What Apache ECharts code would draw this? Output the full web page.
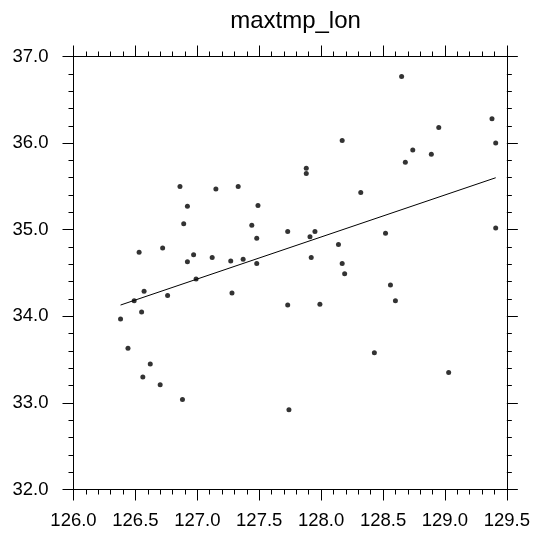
<!DOCTYPE html>
<html>
<head>
<meta charset="utf-8">
<script src="https://cdn.jsdelivr.net/npm/echarts@6/dist/echarts.min.js"></script>
<style>
	html, body { margin: 0; padding: 0; background: #fff; }
	#chart { width: 533px; height: 537px; }
</style>
</head>
<body>
<div id="chart"></div>
<script>
	// station longitude / max temperature
	const lonVals = [126.86, 127.15, 127.33, 126.92, 127.49, 126.89, 127.44, 127.73, 127.48, 126.53,
		126.72, 126.97, 126.92, 127.12, 127.27, 127.37, 127.48, 128.65, 129.38, 128.95,
		128.17, 129.41, 128.74, 128.89, 128.68, 127.88, 127.88, 128.32, 127.91, 127.95,
		128.52, 128.14, 127.92, 128.17, 126.99, 126.57, 126.49, 126.76, 127.28, 127.73,
		126.55, 126.38, 126.44, 126.62, 126.56, 126.70, 126.88, 127.74, 128.19, 127.99,
		128.56, 128.60, 128.43, 129.03, 129.41]
	const tmpVals = [35.50, 35.47, 35.50, 35.27, 35.28, 35.07, 35.05, 34.98, 34.90, 34.74,
		34.79, 34.71, 34.63, 34.68, 34.64, 34.66, 34.61, 36.77, 36.28, 36.18,
		36.03, 36.00, 35.92, 35.87, 35.78, 35.71, 35.65, 35.43, 34.92, 34.98,
		34.96, 34.83, 34.68, 34.61, 34.43, 34.29, 34.18, 34.24, 34.27, 34.13,
		34.05, 33.97, 33.63, 33.45, 33.30, 33.21, 33.04, 32.92, 34.49, 34.14,
		34.36, 34.18, 33.58, 33.35, 35.02]

	// regression line end points
	const fitLon = [126.38, 129.41]
	const fitTmp = [34.13, 35.60]

	const xTicks = [126.0, 129.5, 0.5]
	const yTicks = [32.0, 37.0, 1.0]

	const points = lonVals.map((x, i) => [x, tmpVals[i]])
	const fitLine = fitLon.map((x, i) => [x, fitTmp[i]])

	const font = 'Liberation Sans'

	function axisBase(show) {
		return {
			axisLine: { show: true, onZero: false, lineStyle: { color: '#000', width: 1 } },
			axisTick: { show: true, inside: false, length: 11, lineStyle: { color: '#000', width: 1 } },
			minorTick: { show: true, splitNumber: 5, length: 5, lineStyle: { color: '#000', width: 1 } },
			splitLine: { show: false },
			axisLabel: {
				show: show,
				color: '#000',
				fontFamily: font,
				fontSize: 18.5,
				formatter: v => v.toFixed(1)
			}
		}
	}

	const dom = echarts.init(document.getElementById('chart'), null, { renderer: 'canvas' })
	const option = {
		animation: false,
		backgroundColor: '#fff',
		title: {
			text: 'maxtmp_lon',
			left: 290.5,
			top: 4,
			textAlign: 'center',
			textStyle: { color: '#000', fontFamily: font, fontSize: 24, fontWeight: 'normal' }
		},
		grid: { left: 73.5, right: 25.5, top: 56.5, bottom: 47.5, containLabel: false },
		xAxis: [
			Object.assign(axisBase(true), { type: 'value', position: 'bottom', min: xTicks[0], max: xTicks[1], interval: xTicks[2] }),
			Object.assign(axisBase(false), { type: 'value', position: 'top', min: xTicks[0], max: xTicks[1], interval: xTicks[2] })
		],
		yAxis: [
			Object.assign(axisBase(true), { type: 'value', position: 'left', min: yTicks[0], max: yTicks[1], interval: yTicks[2] }),
			Object.assign(axisBase(false), { type: 'value', position: 'right', min: yTicks[0], max: yTicks[1], interval: yTicks[2] })
		],
		series: [{
			type: 'scatter',
			data: points,
			symbol: 'circle',
			symbolSize: 5,
			itemStyle: { color: '#000' }
		}, {
			type: 'line',
			data: fitLine,
			showSymbol: false,
			symbol: 'none',
			lineStyle: { color: '#000', width: 1 }
		}]
	}
	option.xAxis[0].axisLabel.margin = 22
	option.yAxis[0].axisLabel.margin = 25
	dom.setOption(option, true)
</script>
</body>
</html>
